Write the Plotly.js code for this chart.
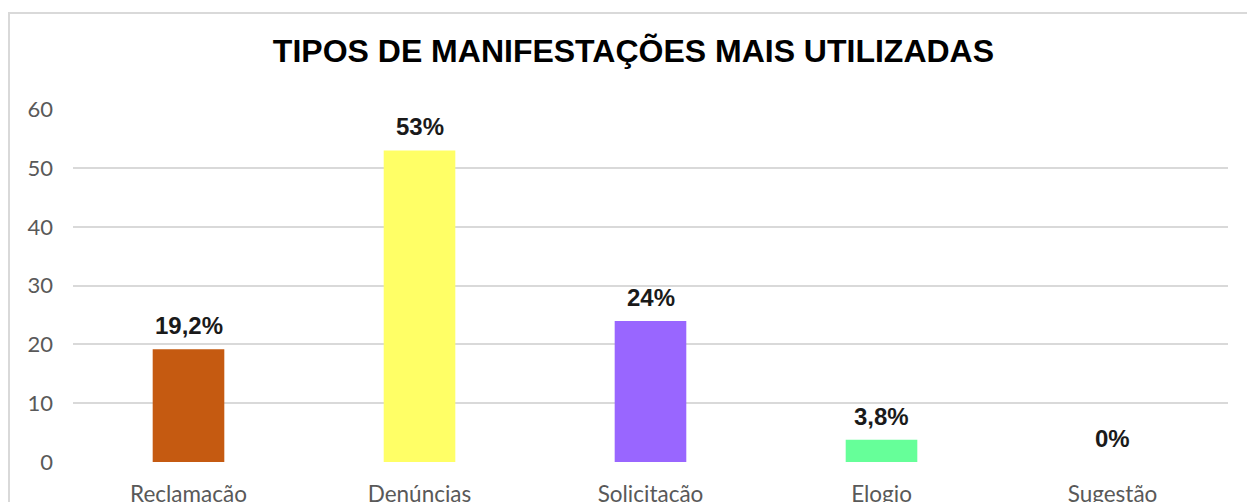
<!DOCTYPE html>
<html>
<head>
<meta charset="utf-8">
<script src="https://cdn.plot.ly/plotly-3.0.1.min.js"></script>
<style>
html,body{margin:0;padding:0;background:#fff;}
#wrap{position:relative;width:1247px;height:502px;overflow:hidden;}
#chart{position:absolute;left:0;top:0;width:1247px;height:502px;}
#frame{position:absolute;left:8px;top:12px;width:1300px;height:600px;border:2px solid #d9d9d9;pointer-events:none;}
</style>
</head>
<body>
<div id="wrap"><div id="chart"></div><div id="frame"></div></div>
<script>
const categories = ["Reclamação", "Denúncias", "Solicitação", "Elogio", "Sugestão"];
const values = [19.2, 53, 24, 3.8, 0];
const labels = ["19,2%", "53%", "24%", "3,8%", "0%"];
const colors = ["#C55A11", "#FFFF66", "#9966FF", "#66FF99", "#4472C4"];
const yTicks = [0, 10, 20, 30, 40, 50, 60];

const trace = {
  type: "bar",
  x: categories,
  y: values,
  marker: {color: colors},
  width: 0.31,
  hoverinfo: "none"
};

const annotations = categories.map((c, i) => ({
  x: c, y: values[i], xref: "x", yref: "y",
  text: "<b>" + labels[i] + "</b>", showarrow: false,
  yanchor: "bottom", yshift: 8,
  font: {family: "Liberation Sans, Arial, sans-serif", size: 24, color: "#1a1a1a"}
}));

const layout = {
  width: 1247, height: 502,
  margin: {l: 73, r: 19, t: 109, b: 40},
  paper_bgcolor: "#ffffff", plot_bgcolor: "#ffffff",
  showlegend: false,
  title: {
    text: "<b>TIPOS DE MANIFESTAÇÕES MAIS UTILIZADAS</b>",
    x: 0.508, xanchor: "center", xref: "container",
    y: 0.898, yanchor: "middle", yref: "container",
    font: {family: "Liberation Sans, Arial, sans-serif", size: 32, color: "#000000"}
  },
  xaxis: {
    type: "category",
    showgrid: false, zeroline: false, showline: false,
    ticks: "", ticklabelstandoff: 16,
    tickfont: {family: "Lato, Carlito, sans-serif", size: 22.5, color: "#595959"}
  },
  yaxis: {
    range: [0, 60.05],
    tickvals: yTicks,
    ticktext: yTicks.map(String),
    showgrid: true, gridcolor: "#d9d9d9", gridwidth: 2,
    zeroline: false, showline: false,
    ticks: "", ticklabelstandoff: 19,
    tickfont: {family: "Lato, Carlito, sans-serif", size: 22, color: "#595959"}
  },
  annotations: annotations
};

Plotly.newPlot("chart", [trace], layout, {displayModeBar: false, staticPlot: true});
</script>
</body>
</html>
